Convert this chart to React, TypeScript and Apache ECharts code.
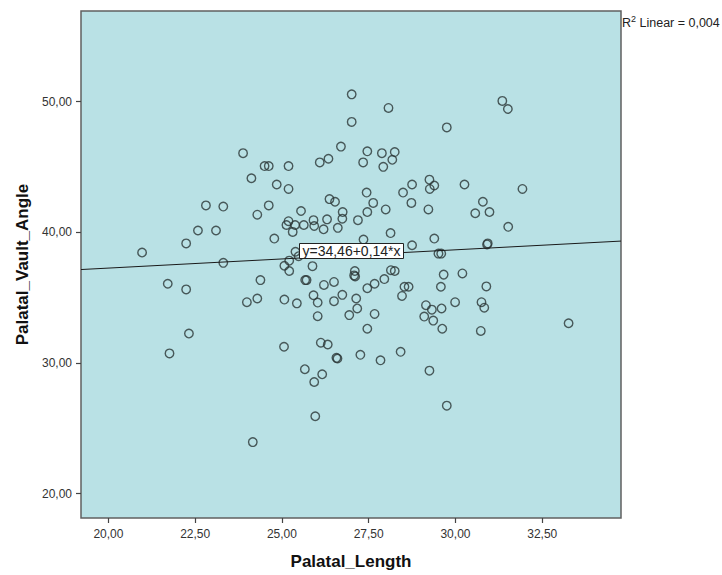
import React, { useEffect, useRef } from "react";
import * as echarts from "echarts";

const palatalLength = [
  20.97, 21.71, 21.76, 22.24, 22.24, 22.32, 22.58, 22.81, 23.1, 23.31, 23.31, 23.88, 23.99, 24.12, 24.16, 24.29,
  24.29, 24.38, 24.5, 24.62, 24.62, 24.78, 24.85, 25.06, 25.07, 25.07, 25.13, 25.19, 25.19, 25.19, 25.21, 25.21,
  25.31, 25.38, 25.39, 25.43, 25.48, 25.55, 25.63, 25.66, 25.67, 25.71, 25.88, 25.91, 25.93, 25.91, 25.93, 25.96,
  26.03, 26.03, 26.09, 26.12, 26.16, 26.2, 26.21, 26.3, 26.32, 26.34, 26.37, 26.53, 26.5, 26.5, 26.57, 26.6,
  26.61, 26.7, 26.74, 26.75, 26.74, 26.94, 27.01, 27.01, 27.1, 27.11, 27.08, 27.14, 27.17, 27.19, 27.26, 27.34,
  27.35, 27.44, 27.46, 27.46, 27.46, 27.46, 27.63, 27.67, 27.67, 27.84, 27.88, 27.92, 27.95, 27.99, 28.07, 28.13,
  28.14, 28.18, 28.25, 28.25, 28.42, 28.46, 28.49, 28.53, 28.65, 28.73, 28.75, 28.75, 29.1, 29.15, 29.22, 29.25,
  29.26, 29.25, 29.32, 29.36, 29.39, 29.39, 29.51, 29.59, 29.58, 29.6, 29.62, 29.66, 29.75, 29.75, 29.99, 30.2,
  30.26, 30.57, 30.73, 30.75, 30.79, 30.83, 30.89, 30.91, 30.93, 30.98, 31.35, 31.51, 31.52, 31.93, 33.26,
];

const palatalVaultAngle = [
  38.45, 36.06, 30.73, 39.15, 35.63, 32.25, 40.14, 42.06, 40.14, 41.97, 37.66, 46.06, 34.65, 44.14, 23.94, 41.35,
  34.93, 36.34, 45.07, 45.07, 42.06, 39.52, 43.66, 31.24, 37.44, 34.85, 40.56, 45.07, 43.32, 40.85, 37.83, 37.04,
  40.03, 40.56, 38.51, 34.56, 38.17, 41.63, 40.56, 29.52, 36.34, 36.34, 37.41, 40.93, 40.48, 35.18, 28.54, 25.92,
  34.62, 33.58, 45.35, 31.55, 29.13, 40.23, 35.97, 40.99, 31.41, 45.63, 42.54, 42.34, 36.2, 34.73, 30.39, 30.34,
  40.34, 46.56, 35.21, 41.55, 41.04, 33.66, 50.56, 48.45, 37.04, 36.62, 36.7, 34.93, 34.17, 40.93, 30.62, 45.35,
  39.44, 43.04, 41.55, 46.2, 35.72, 32.62, 42.25, 36.06, 33.75, 30.2, 46.06, 45.01, 36.42, 41.75, 49.52, 39.94,
  37.1, 45.55, 46.14, 37.04, 30.85, 35.13, 43.04, 35.83, 35.83, 42.25, 43.66, 39.01, 33.55, 34.42, 41.75, 44.03,
  43.32, 29.41, 34.08, 33.24, 43.58, 39.52, 38.37, 38.37, 35.83, 34.17, 32.62, 36.76, 48.03, 26.73, 34.65, 36.85,
  43.66, 41.46, 32.45, 34.65, 42.34, 34.23, 35.86, 39.07, 39.15, 41.55, 50.06, 49.44, 40.42, 43.32, 33.04,
];

const xTicks = [20, 22.5, 25, 27.5, 30, 32.5];
const yTicks = [20, 30, 40, 50];
const xRange = [19.21, 34.77];
const yRange = [18.13, 56.94];
const fitIntercept = 34.46;
const fitSlope = 0.14;
const fitLabel = "y=34,46+0,14*x";
const r2Label = "0,004";

const FONT = "Arial, 'Liberation Sans', sans-serif";
const fmt = (v: number) => v.toFixed(2).replace(".", ",");

export default function App() {
  const ref = useRef<HTMLDivElement>(null);
  useEffect(() => {
    if (!ref.current) return;
    const chart = echarts.init(ref.current, null, { renderer: "svg" });
    const points = palatalLength.map((x, i) => [x, palatalVaultAngle[i]]);
    const fit = xRange.map((x) => [x, fitIntercept + fitSlope * x]);
    chart.setOption({
      animation: false,
      backgroundColor: "#ffffff",
      grid: {
        left: 81,
        top: 11,
        width: 540,
        height: 507,
        show: true,
        backgroundColor: "#b9e1e5",
        borderColor: "#606060",
        borderWidth: 1.5,
      },
      xAxis: {
        type: "value",
        min: xRange[0],
        max: xRange[1],
        name: "Palatal_Length",
        nameLocation: "middle",
        nameGap: 35,
        nameTextStyle: { fontFamily: FONT, fontSize: 17, fontWeight: "bold", color: "#111" },
        axisLine: { show: false },
        splitLine: { show: false },
        axisTick: { show: true, customValues: xTicks, length: 5, inside: false, lineStyle: { color: "#444", width: 1.2 } },
        axisLabel: { customValues: xTicks, formatter: fmt, margin: 10, fontFamily: FONT, fontSize: 12, color: "#333" },
      },
      yAxis: {
        type: "value",
        min: yRange[0],
        max: yRange[1],
        name: "Palatal_Vault_Angle",
        nameLocation: "middle",
        nameGap: 50,
        nameTextStyle: { fontFamily: FONT, fontSize: 17, fontWeight: "bold", color: "#111" },
        axisLine: { show: false },
        splitLine: { show: false },
        axisTick: { show: true, customValues: yTicks, length: 5, inside: false, lineStyle: { color: "#444", width: 1.2 } },
        axisLabel: { customValues: yTicks, formatter: fmt, margin: 9, fontFamily: FONT, fontSize: 12, color: "#333" },
      },
      series: [
        {
          type: "scatter",
          data: points,
          symbol: "circle",
          symbolSize: 8.5,
          itemStyle: { color: "rgba(0,0,0,0)", borderColor: "#2b3636", borderWidth: 1.4 },
          z: 2,
        },
        {
          type: "line",
          data: fit,
          symbol: "none",
          lineStyle: { color: "#1a1a1a", width: 1 },
          z: 3,
        },
      ],
      graphic: [
        {
          type: "rect",
          shape: { x: 299.5, y: 243.5, width: 104, height: 15 },
          style: { fill: "#ffffff", stroke: "#222", lineWidth: 1 },
          z: 10,
        },
        {
          type: "text",
          x: 351.5,
          y: 251,
          style: {
            text: fitLabel,
            fontFamily: FONT,
            fontSize: 14,
            fill: "#222",
            align: "center",
            verticalAlign: "middle",
          },
          z: 11,
        },
        {
          type: "text",
          x: 622,
          y: 23,
          style: {
            text: "{a|R}{s|2}{a| Linear = " + r2Label + "}",
            rich: {
              a: { fontFamily: FONT, fontSize: 12.5, fill: "#222", verticalAlign: "middle" },
              s: { fontFamily: FONT, fontSize: 9, fill: "#222", padding: [0, 0, 8, 0] },
            },
            align: "left",
            verticalAlign: "middle",
          },
          z: 11,
        },
      ],
    });
    return () => chart.dispose();
  }, []);
  return (
    <div
      ref={ref}
      style={{ position: "absolute", left: 0, top: 0, width: 722, height: 575 }}
    />
  );
}
